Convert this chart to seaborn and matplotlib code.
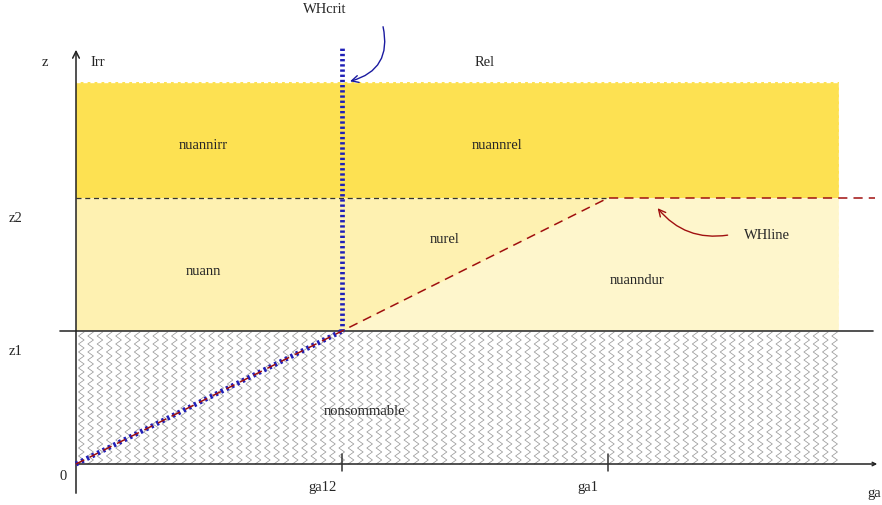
import matplotlib.pyplot as plt
import seaborn as sns
import numpy as np
from matplotlib.patches import FancyArrowPatch

# Diagram values (in units of ga12)
ga_ticks = [1.0, 2.0]
ga_labels = ['ga12', 'ga1']
z_levels = [0.5, 1.0]
z_labels = ['z1', 'z2']
x_right = 2.87
z_top = 1.436

region_names = ['nuannirr', 'nuannrel', 'nuann', 'nurel', 'nuanndur', 'nonsommable']
region_x = [0.477, 1.583, 0.477, 1.387, 2.109, 1.086]
region_y = [1.203, 1.203, 0.726, 0.846, 0.692, 0.203]

ga12, ga1 = ga_ticks
z1, z2 = z_levels

sns.set_theme(style='white')
plt.rcParams['font.family'] = ['Liberation Serif', 'DejaVu Serif']

fig = plt.figure(figsize=(8.82, 5.06), dpi=100)
ax = fig.add_axes([0, 0, 1, 1])
ax.set_xlim(-76 / 266, 806 / 266)
ax.set_ylim(-41 / 266, 465 / 266)
ax.axis('off')

yellow = '#fde152'
pale = '#fef1b1'
paler = '#fef6cc'

# coloured regions
ax.fill_between([0, x_right], z2, z_top, color=yellow, lw=0, zorder=1)
ax.fill_between([0, x_right], z1, z2, color=paler, lw=0, zorder=1)
ax.fill_between([0, ga12], z1, z2, color=pale, lw=0, zorder=1)
ax.fill_between([ga12, ga1], [z1, z2], [z2, z2], color=pale, lw=0, zorder=1)
ax.plot([0, x_right, x_right], [z_top, z_top, z1], color='white', lw=1,
        ls=(0, (3, 2)), zorder=2)

# zigzag hatching of the non summable zone
step = 9.3 / 266
period = 8 / 266
amp = 2.8 / 266
yy = np.arange(0, z1 + 1e-9, period / 2)
for xc in np.arange(0.02, x_right - 0.005, step):
    xs = xc + amp * np.where(np.arange(len(yy)) % 2 == 0, -1, 1)
    ax.plot(xs, yy, color='#9a9a9a', lw=0.55, zorder=2)

# axes and levels
ax.plot([-16 / 266, 797 / 266], [z1, z1], color='#333333', lw=1.2, zorder=4)
ax.plot([0, ga1], [z2, z2], color='#333333', lw=0.9, ls=(0, (4, 3)), zorder=4)
ax.annotate('', xy=(0, 417 / 266), xytext=(0, -32 / 266),
            arrowprops=dict(arrowstyle='->', color='#222222', lw=1.1), zorder=5)
ax.annotate('', xy=(804 / 266, 0), xytext=(0, 0),
            arrowprops=dict(arrowstyle='->', color='#222222', lw=1.1,
                            mutation_scale=6), zorder=5)
for g in ga_ticks:
    ax.plot([g, g], [-7 / 266, 10 / 266], color='#333333', lw=1.1, zorder=5)

# WHcrit (blue) and WHline (red)
ax.plot([ga12, ga12], [z1, 417 / 266], color='#2020b8', lw=3.4,
        ls=(0, (0.5, 0.6)), zorder=6)
ax.plot([0, ga12], [0, z1], color='#2020b8', lw=3.6, ls=(0, (0.5, 0.7)), zorder=6)
sns.lineplot(x=[0, ga12, ga1, 799 / 266], y=[0, z1, z2, z2], sort=False,
             color='#a01010', lw=1.1, ax=ax, zorder=7)
ax.lines[-1].set_linestyle((0, (6, 4)))

ax.add_patch(FancyArrowPatch((ga12 + 0.152, 1.654), (ga12 + 0.02, z_top),
                             connectionstyle='arc3,rad=-0.5',
                             arrowstyle='->,head_length=5,head_width=2.5',
                             color='#1a1aa0', lw=1.0, zorder=8))
ax.add_patch(FancyArrowPatch((2.46, 0.862), (2.18, 0.97),
                             connectionstyle='arc3,rad=-0.3',
                             arrowstyle='->,head_length=5,head_width=2.5',
                             color='#a01010', lw=1.0, zorder=8))

# texts
fs = 10.5
for name, x, y in zip(region_names, region_x, region_y):
    ax.text(x, y, name, ha='center', va='center', fontsize=fs, zorder=9)
for g, lab in zip(ga_ticks, ga_labels):
    ax.text(g - 0.075, -0.085, lab, ha='center', va='center', fontsize=fs)
for z, lab in zip(z_levels, z_labels):
    ax.text(-0.229, z - 0.075, lab, ha='center', va='center', fontsize=fs)
ax.text(-0.049, -0.045, '0', ha='center', va='center', fontsize=fs)
ax.text(3.0, -0.106, 'ga', ha='center', va='center', fontsize=fs)
ax.text(-0.117, 1.515, 'z', ha='center', va='center', fontsize=fs)
ax.text(0.083, 1.515, 'Irr', ha='center', va='center', fontsize=fs)
ax.text(1.538, 1.515, 'Rel', ha='center', va='center', fontsize=fs)
ax.text(0.936, 1.711, 'WHcrit', ha='center', va='center', fontsize=fs)
ax.text(2.598, 0.861, 'WHline', ha='center', va='center', fontsize=fs)

fig.savefig('out.png', dpi=100)
